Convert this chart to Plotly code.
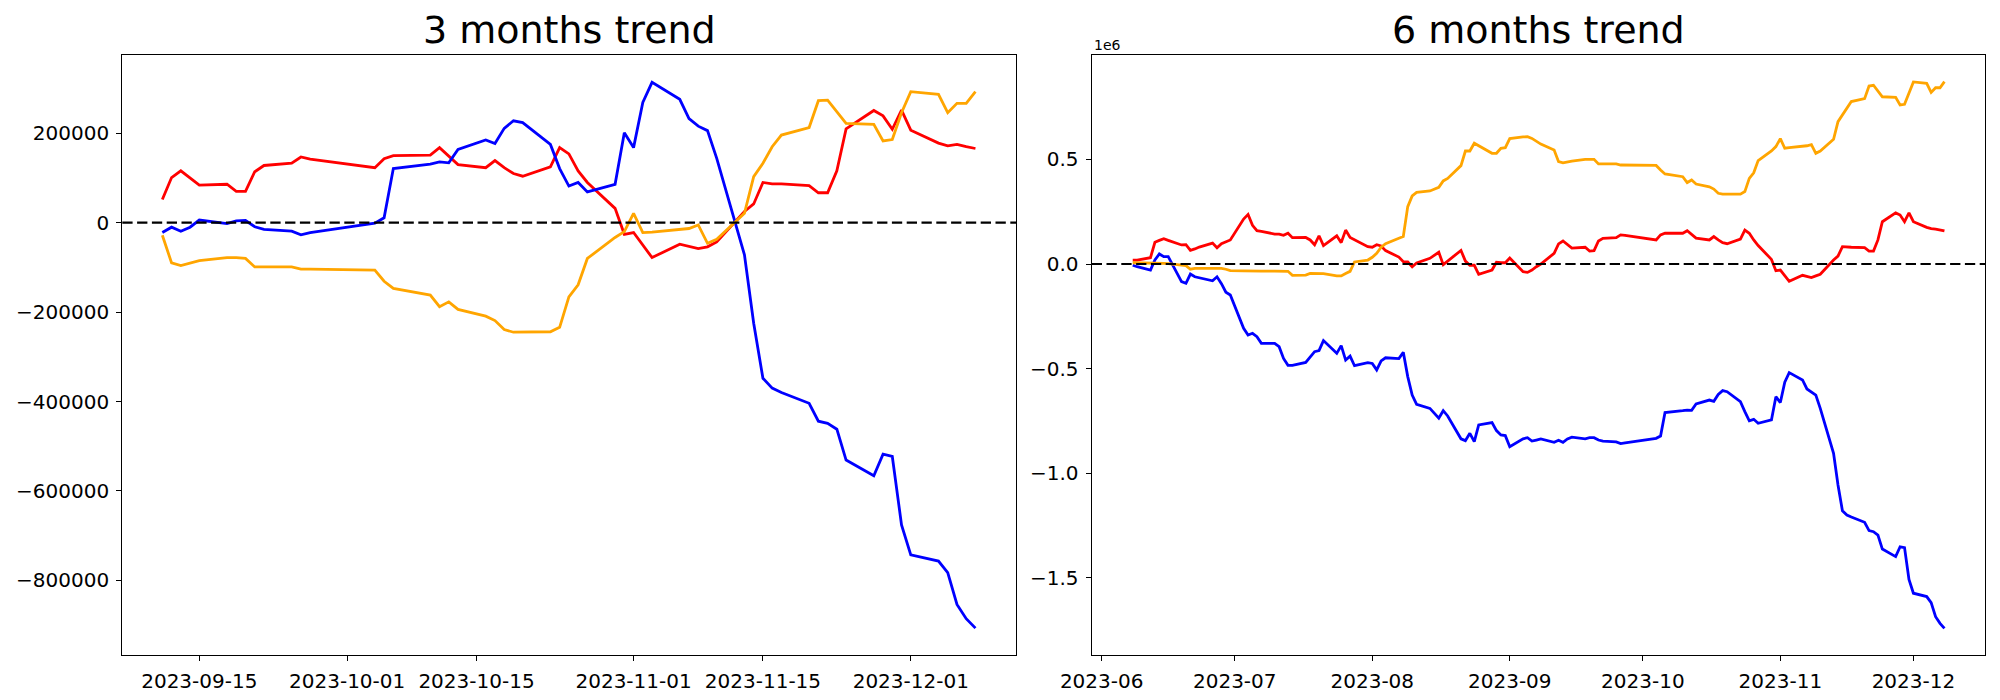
import plotly.graph_objects as go

# ---------------- 3 months trend ----------------
dates_3m = [
    "2023-09-11", "2023-09-12", "2023-09-13", "2023-09-14", "2023-09-15",
    "2023-09-18", "2023-09-19", "2023-09-20", "2023-09-21", "2023-09-22",
    "2023-09-25", "2023-09-26", "2023-09-27",
    "2023-10-04", "2023-10-05", "2023-10-06",
    "2023-10-10", "2023-10-11", "2023-10-12", "2023-10-13",
    "2023-10-16", "2023-10-17", "2023-10-18", "2023-10-19", "2023-10-20",
    "2023-10-23", "2023-10-24", "2023-10-25", "2023-10-26", "2023-10-27",
    "2023-10-30", "2023-10-31", "2023-11-01", "2023-11-02", "2023-11-03",
    "2023-11-06", "2023-11-07", "2023-11-08", "2023-11-09", "2023-11-10",
    "2023-11-13", "2023-11-14", "2023-11-15", "2023-11-16", "2023-11-17",
    "2023-11-20", "2023-11-21", "2023-11-22", "2023-11-23", "2023-11-24",
    "2023-11-27", "2023-11-28", "2023-11-29", "2023-11-30", "2023-12-01",
    "2023-12-04", "2023-12-05", "2023-12-06", "2023-12-07", "2023-12-08",
]
red_3m = [
    52000, 101000, 116000, 101000, 84000,
    86000, 70000, 70000, 114000, 128000,
    133000, 147000, 142000,
    123000, 143000, 150000,
    151000, 168000, 148000, 130000,
    123000, 139000, 123000, 110000, 104000,
    125000, 168000, 154000, 116000, 90000,
    32000, -26000, -22000, -49000, -78000,
    -48000, -53000, -58000, -54000, -43000,
    25000, 42000, 90000, 87000, 87000,
    83000, 67000, 67000, 116000, 210000,
    251000, 239000, 209000, 252000, 207000,
    178000, 172000, 175000, 170000, 166000,
]
blue_3m = [
    -22000, -10000, -19000, -10000, 6000,
    -2000, 4000, 5000, -9000, -15000,
    -19000, -27000, -22000,
    -1000, 11000, 121000,
    131000, 136000, 134000, 164000,
    185000, 177000, 211000, 228000, 224000,
    175000, 121000, 82000, 90000, 69000,
    86000, 201000, 168000, 269000, 314000,
    276000, 233000, 216000, 206000, 144000,
    -72000, -225000, -348000, -370000, -380000,
    -404000, -444000, -449000, -462000, -531000,
    -566000, -518000, -523000, -676000, -743000,
    -757000, -783000, -854000, -886000, -907000,
]
orange_3m = [
    -28000, -90000, -96000, -90000, -85000,
    -78000, -78000, -80000, -99000, -99000,
    -99000, -104000, -104000,
    -106000, -131000, -147000,
    -162000, -188000, -177000, -194000,
    -209000, -219000, -239000, -245000, -245000,
    -244000, -234000, -166000, -139000, -80000,
    -33000, -20000, 21000, -22000, -21000,
    -15000, -13000, -5000, -46000, -37000,
    21000, 103000, 133000, 170000, 196000,
    213000, 273000, 274000, 248000, 222000,
    220000, 183000, 186000, 246000, 293000,
    287000, 246000, 267000, 267000, 293000,
]

# ---------------- 6 months trend ----------------
trading_days_6m = {
    "2023-06": [8, 9, 12, 13, 14, 15, 16, 19, 20, 21, 22, 23, 26, 27, 28, 29, 30],
    "2023-07": [3, 4, 5, 6, 7, 10, 11, 12, 13, 14, 17, 18, 19, 20, 21, 24, 25, 26, 27, 28, 31],
    "2023-08": [1, 2, 3, 4, 7, 8, 9, 10, 11, 14, 16, 17, 18, 21, 22, 23, 24, 25, 28, 29, 30, 31],
    "2023-09": [1, 4, 5, 6, 7, 8, 11, 12, 13, 14, 15, 18, 19, 20, 21, 22, 25, 26, 27],
    "2023-10": [4, 5, 6, 10, 11, 12, 13, 16, 17, 18, 19, 20, 23, 24, 25, 26, 27, 30, 31],
    "2023-11": [1, 2, 3, 6, 7, 8, 9, 10, 13, 14, 15, 16, 17, 20, 21, 22, 23, 24, 27, 28, 29, 30],
    "2023-12": [1, 4, 5, 6, 7, 8],
}
# values in millions (axis offset 1e6)
red_6m = [
    0.019, 0.019, 0.030, 0.104, 0.113, 0.121, 0.113, 0.091, 0.092, 0.065, 0.072, 0.081, 0.100, 0.078, 0.097, 0.107, 0.115,
    0.215, 0.237, 0.185, 0.159, 0.156, 0.143, 0.143, 0.137, 0.147, 0.126, 0.127, 0.115, 0.092, 0.135, 0.088, 0.135, 0.102, 0.162, 0.127, 0.116, 0.083,
    0.080, 0.092, 0.086, 0.064, 0.033, 0.011, 0.010, -0.013, 0.005, 0.027, 0.056, -0.003, 0.014, 0.065, 0.014, -0.006, -0.006, -0.049, -0.029, 0.008, 0.006, 0.006,
    0.029, -0.037, -0.040, -0.029, -0.013, 0.000, 0.051, 0.096, 0.110, 0.092, 0.076, 0.080, 0.062, 0.064, 0.110, 0.123, 0.126, 0.139, 0.137,
    0.115, 0.139, 0.147, 0.147, 0.159, 0.142, 0.124, 0.115, 0.131, 0.115, 0.102, 0.097, 0.119, 0.162, 0.147, 0.115, 0.088, 0.022, -0.032,
    -0.029, -0.056, -0.083, -0.054, -0.061, -0.065, -0.057, -0.049, 0.019, 0.038, 0.083, 0.081, 0.080, 0.078, 0.062, 0.062, 0.115, 0.202, 0.244, 0.234, 0.202, 0.244,
    0.202, 0.175, 0.169, 0.167, 0.162, 0.158,
]
orange_6m = [
    0.006, 0.006, 0.006, 0.006, 0.006, 0.003, 0.002, -0.008, -0.008, -0.025, -0.021, -0.021, -0.021, -0.021, -0.021, -0.025, -0.032,
    -0.033, -0.034, -0.034, -0.034, -0.034, -0.034, -0.034, -0.034, -0.035, -0.054, -0.053, -0.045, -0.046, -0.046, -0.046, -0.057, -0.057, -0.045, -0.035, 0.010, 0.019,
    0.032, 0.051, 0.080, 0.097, 0.123, 0.131, 0.274, 0.325, 0.342, 0.349, 0.366, 0.397, 0.409, 0.470, 0.540, 0.540, 0.577, 0.564, 0.529, 0.529, 0.553, 0.556,
    0.599, 0.607, 0.608, 0.600, 0.588, 0.573, 0.545, 0.489, 0.483, 0.487, 0.492, 0.500, 0.500, 0.500, 0.478, 0.478, 0.478, 0.473, 0.473,
    0.471, 0.449, 0.430, 0.417, 0.389, 0.401, 0.382, 0.369, 0.358, 0.338, 0.334, 0.334, 0.334, 0.346, 0.409, 0.436, 0.494, 0.540, 0.561,
    0.599, 0.553, 0.556, 0.562, 0.565, 0.570, 0.529, 0.540, 0.596, 0.680, 0.712, 0.744, 0.776, 0.790, 0.850, 0.854, 0.827, 0.799, 0.796, 0.760, 0.763, 0.815,
    0.870, 0.863, 0.820, 0.842, 0.842, 0.871,
]
blue_6m = [
    -0.006, -0.013, -0.029, 0.019, 0.048, 0.035, 0.035, -0.084, -0.092, -0.048, -0.061, -0.065, -0.080, -0.061, -0.094, -0.135, -0.148,
    -0.307, -0.339, -0.331, -0.347, -0.379, -0.379, -0.395, -0.451, -0.484, -0.484, -0.470, -0.443, -0.419, -0.414, -0.366, -0.427, -0.390, -0.459, -0.440, -0.486, -0.471,
    -0.475, -0.506, -0.463, -0.448, -0.452, -0.422, -0.538, -0.626, -0.670, -0.690, -0.737, -0.701, -0.726, -0.835, -0.844, -0.809, -0.849, -0.769, -0.758, -0.796, -0.817, -0.820,
    -0.873, -0.835, -0.830, -0.846, -0.841, -0.836, -0.852, -0.842, -0.852, -0.836, -0.827, -0.835, -0.830, -0.830, -0.841, -0.846, -0.850, -0.858, -0.855,
    -0.833, -0.822, -0.710, -0.701, -0.698, -0.699, -0.669, -0.650, -0.656, -0.623, -0.605, -0.610, -0.658, -0.705, -0.749, -0.742, -0.761, -0.745, -0.634,
    -0.662, -0.565, -0.519, -0.554, -0.597, -0.611, -0.626, -0.690, -0.905, -1.056, -1.179, -1.199, -1.209, -1.234, -1.274, -1.279, -1.295, -1.362, -1.398, -1.351, -1.355, -1.507,
    -1.573, -1.589, -1.618, -1.685, -1.717, -1.741,
]
dates_6m = [f"{m}-{d:02d}" for m, days in trading_days_6m.items() for d in days]
SCALE_6M = 1e6

# ticks
xticks_3m = ["2023-09-15", "2023-10-01", "2023-10-15", "2023-11-01", "2023-11-15", "2023-12-01"]
yticks_3m = [-800000, -600000, -400000, -200000, 0, 200000]
xticks_6m = ["2023-06-01", "2023-07-01", "2023-08-01", "2023-09-01", "2023-10-01", "2023-11-01", "2023-12-01"]
xticktext_6m = ["2023-06", "2023-07", "2023-08", "2023-09", "2023-10", "2023-11", "2023-12"]
yticks_6m = [-1.5, -1.0, -0.5, 0.0, 0.5]

titles = ["3 months trend", "6 months trend"]
colors = {"red": "#ff0000", "blue": "#0000ff", "orange": "#ffa500"}


def fmt_minus(s):
    return s.replace("-", "\u2212")


fig = go.Figure()
LW = 2.8
for name, ys in (("red", red_3m), ("blue", blue_3m), ("orange", orange_3m)):
    fig.add_trace(go.Scatter(x=dates_3m, y=ys, mode="lines", name=name,
                             line=dict(color=colors[name], width=LW),
                             xaxis="x", yaxis="y", showlegend=False))
for name, ys in (("red", red_6m), ("blue", blue_6m), ("orange", orange_6m)):
    fig.add_trace(go.Scatter(x=dates_6m, y=[v * SCALE_6M for v in ys], mode="lines", name=name,
                             line=dict(color=colors[name], width=LW),
                             xaxis="x2", yaxis="y2", showlegend=False))

# page has an 8px body margin: figure is 1992x692 placed at (8, 8)
W, H, OFF = 1992, 692, 8


def px_x(p):
    return (p - OFF) / W


def px_y(p):
    return 1 - (p - OFF) / H


FONT = "DejaVu Sans"
tick_font = dict(family=FONT, size=20, color="black")
common = dict(showgrid=False, zeroline=False, showline=True, mirror=True,
              linecolor="black", linewidth=1.3, ticks="outside", ticklen=5,
              tickwidth=1.1, tickcolor="black", tickfont=tick_font, automargin=False,
              ticklabelstandoff=3)

ydom = [px_y(655), px_y(55)]
fig.update_layout(
    width=W, height=H,
    margin=dict(l=0, r=0, t=0, b=0, pad=0),
    paper_bgcolor="white", plot_bgcolor="white",
    xaxis=dict(domain=[px_x(122.3), px_x(1016)], anchor="y", type="date",
               range=["2023-09-06 16:00", "2023-12-12 09:20"],
               tickvals=xticks_3m, ticktext=xticks_3m, **common),
    yaxis=dict(domain=ydom, anchor="x", range=[-967114, 375168],
               tickvals=yticks_3m, ticktext=[fmt_minus(str(v)) for v in yticks_3m], **common),
    xaxis2=dict(domain=[px_x(1091.7), px_x(1985.3)], anchor="y2", type="date",
                range=["2023-05-29 18:00", "2023-12-17 05:00"],
                tickvals=xticks_6m, ticktext=xticktext_6m, **common),
    yaxis2=dict(domain=ydom, anchor="x2", range=[-1.8681e6, 0.99857e6],
                tickvals=[v * SCALE_6M for v in yticks_6m],
                ticktext=[fmt_minus(f"{v:.1f}") for v in yticks_6m], **common),
)

# dashed zero lines
for xr, yr in (("x domain", "y"), ("x2 domain", "y2")):
    fig.add_shape(type="line", xref=xr, yref=yr, x0=0, x1=1, y0=0, y1=0,
                  line=dict(color="black", width=2.2, dash="10.3px,4.5px"), layer="above")

# titles
for xc, t in ((px_x(569), titles[0]), (px_x(1538.5), titles[1])):
    fig.add_annotation(text=t, xref="paper", yref="paper", x=xc, y=px_y(53),
                       xanchor="center", yanchor="bottom", showarrow=False, borderpad=0,
                       font=dict(family=FONT, size=38, color="black"))
# offset text
fig.add_annotation(text="1e6", xref="paper", yref="paper", x=px_x(1092), y=px_y(45),
                   xanchor="left", yanchor="middle", showarrow=False,
                   font=dict(family=FONT, size=14, color="black"))

fig.write_html("out.html")
